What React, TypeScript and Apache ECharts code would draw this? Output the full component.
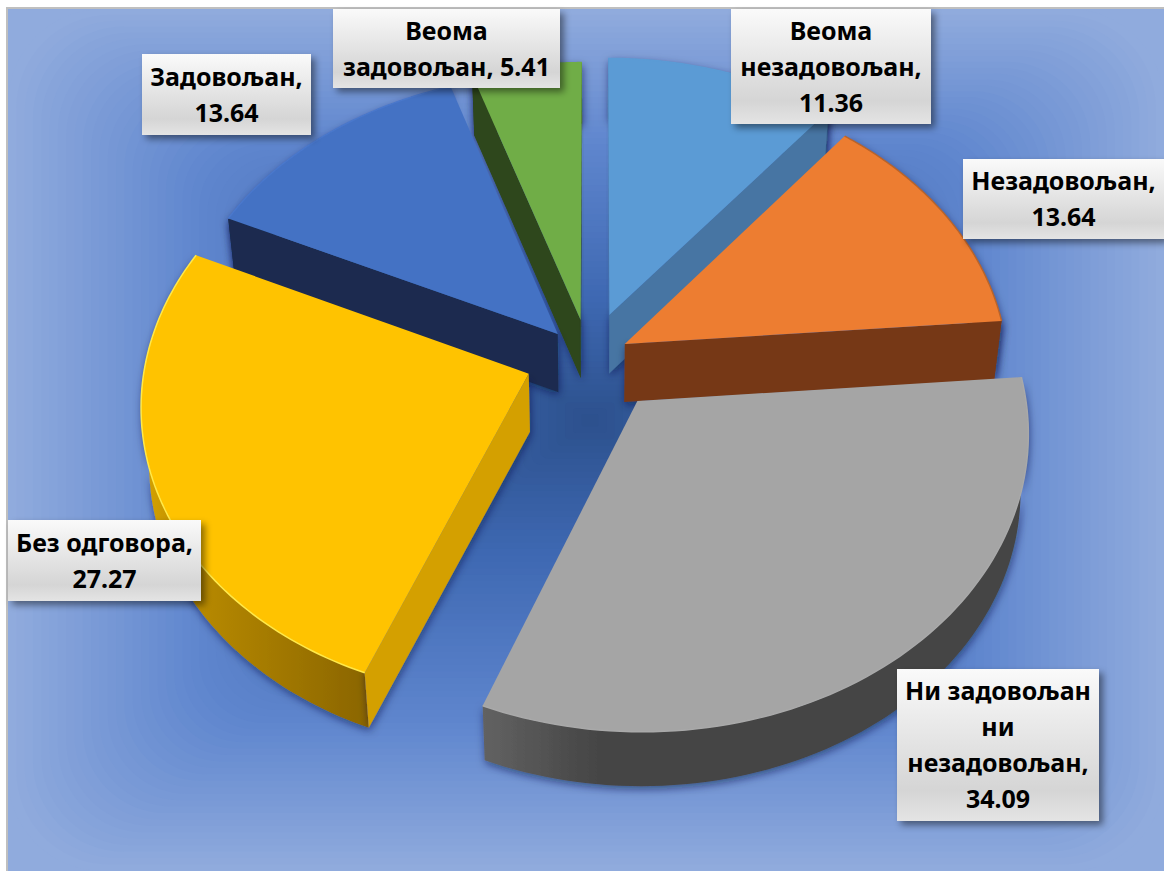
import React, { useEffect, useRef } from "react";
import * as echarts from "echarts";

// ---- data (clockwise from 12 o'clock)
const NAMES = ["Веома\nнезадовољан", "Незадовољан", "Ни задовољан\nни\nнезадовољан", "Без одговора", "Задовољан", "Веома\nзадовољан"];
const VALUES = [11.36, 13.64, 34.09, 27.27, 13.64, 5.41];
const VALUE_BREAK = ["\n", "\n", "\n", "\n", "\n", " "];

// ---- styling
const TOP_COLORS = ["#5B9BD5", "#ED7D31", "#A5A5A5", "#FFC300", "#4472C4", "#70AD47"];
const CUT_COLORS = ["#4674A3", "#763918", "#444444", "#D4A000", "#1A2C50", "#2D461C"];
const RIM_COLORS = ["#5B9BD5", "#B8642C", "#A9A9A9", "#FFE94A", "#4A78CC", "#70AD47"];
const ARC_STOPS = [
  ["#44739F", "#44739F", "#44739F"],
  ["#763918", "#763918", "#763918"],
  ["#626262", "#444444", "#444444"],
  ["#D8A400", "#B98B00", "#8A6500"],
  ["#1A2C50", "#1A2C50", "#1A2C50"],
  ["#2D461C", "#2D461C", "#2D461C"],
];
const DRAW_ORDER = [0, 5, 4, 1, 3, 2];
// explosion of each slice, as a fraction of the pie radius (x to the right, y to the back)
const EXPLODE_X = [0.038, 0.078, 0.109, -0.172, -0.098, -0.038];
const EXPLODE_Y = [0.175, 0.073, -0.122, -0.03, 0.108, 0.157];
// label boxes: left, top, right, bottom
const BOXES = [
  [731, 9, 931, 124],
  [963, 159, 1164, 239],
  [897, 669, 1099, 821],
  [8, 520, 201, 601],
  [142, 54, 311, 135],
  [333, 9, 560, 88],
];

const W = 1164, H = 871;
const CX = 595, CY = 365, RX = 384, RY = 291, PERSP = 0.098;
const DEPTH = 58, DEPTH_SX = 0.982, DEPTH_SY = 0.99;
const BG = { x0: 8, y0: 9, x1: 1164, y1: 871, cx: 590, cy: 420 };
const BG_RAMP: [number, number[]][] = [
  [0, [0x2c, 0x50, 0x8c]],
  [0.3, [0x3e, 0x68, 0xb2]],
  [0.68, [0x5f, 0x86, 0xce]],
  [1, [0x90, 0xab, 0xdd]],
];
const BG_LAYERS = 70;

const TOTAL = VALUES.reduce((a, b) => a + b, 0);
const START: number[] = [];
VALUES.reduce((acc, v, i) => { START[i] = (acc / TOTAL) * Math.PI * 2; return acc + v; }, 0);
const projTop = (X: number, Y: number): [number, number] => {
  const w = 1 + PERSP * Y;
  return [CX + (RX * X) / w, CY - (RY * Y) / w];
};
const down = (p: number[]): [number, number] => [CX + (p[0] - CX) * DEPTH_SX, CY + (p[1] - CY) * DEPTH_SY + DEPTH];
const SHADOW = { shadowBlur: 8, shadowOffsetX: 1, shadowOffsetY: 3, shadowColor: "rgba(0,20,60,0.55)" };

function renderSlice(_p: any, api: any) {
  const i = api.value(0);
  const a0 = START[i];
  const a1 = a0 + (VALUES[i] / TOTAL) * Math.PI * 2;
  const ex = EXPLODE_X[i], ey = EXPLODE_Y[i];
  const apex = projTop(ex, ey);
  const arc: [number, number][] = [];
  const n = 80;
  for (let k = 0; k <= n; k++) {
    const a = a0 + ((a1 - a0) * k) / n;
    arc.push(projTop(ex + Math.sin(a), ey + Math.cos(a)));
  }
  const arcDown = arc.map(down);
  const apexDown = down(apex);
  const arcSide = arc.concat(arcDown.slice().reverse());
  const mid = arc[n >> 1];
  const poly = (pts: number[][], fill: any, extra: any = {}) => ({
    type: "polygon",
    shape: { points: pts },
    style: { fill, ...extra },
  });
  // a cut face shows only when the slice lies above its edge on screen
  const cuts = [arc[0], arc[n]]
    .filter((e) => {
      const ux = e[0] - apex[0], uy = e[1] - apex[1];
      const inside = ux * (mid[1] - apex[1]) - uy * (mid[0] - apex[0]);
      return inside * ux < 0;
    })
    .map((e) => poly([apex, e, down(e), apexDown], CUT_COLORS[i], SHADOW));
  const s = ARC_STOPS[i];
  return {
    type: "group",
    children: [
      poly(arcSide, new echarts.graphic.LinearGradient(0, 0, 1, 0, [
        { offset: 0, color: s[0] },
        { offset: 0.22, color: s[1] },
        { offset: 1, color: s[2] },
      ]), SHADOW),
      ...cuts,
      poly([apex, ...arc], TOP_COLORS[i]),
      {
        type: "polyline",
        shape: { points: arc },
        style: { fill: "none", stroke: RIM_COLORS[i], lineWidth: 1.5 },
      },
    ],
  };
}

function renderLabel(_p: any, api: any) {
  const i = api.value(0);
  const [l, t, r, b] = BOXES[i];
  return {
    type: "group",
    children: [
      {
        type: "rect",
        shape: { x: l, y: t, width: r - l, height: b - t },
        style: {
          fill: new echarts.graphic.LinearGradient(0, 0, 0, 1, [
            { offset: 0, color: "#FAFAFA" },
            { offset: 0.8, color: "#D5D5D5" },
            { offset: 1, color: "#E4E4E4" },
          ]),
          shadowBlur: 7,
          shadowOffsetX: 4,
          shadowOffsetY: 4,
          shadowColor: "rgba(0,0,0,0.45)",
        },
      },
      {
        type: "text",
        style: {
          x: (l + r) / 2,
          y: (t + b) / 2 - 1,
          text: `${NAMES[i]},${VALUE_BREAK[i]}${VALUES[i].toFixed(2)}`,
          align: "center",
          verticalAlign: "middle",
          fill: "#000000",
          font: 'bold 25px "Noto Sans"',
          lineHeight: 36,
        },
      },
    ],
  };
}

function rampColor(t: number) {
  let k = 0;
  while (k < BG_RAMP.length - 2 && t > BG_RAMP[k + 1][0]) k++;
  const [t0, c0] = BG_RAMP[k];
  const [t1, c1] = BG_RAMP[k + 1];
  const f = Math.min(1, Math.max(0, (t - t0) / (t1 - t0)));
  return `rgb(${c0.map((c, j) => Math.round(c + (c1[j] - c) * f)).join(",")})`;
}

function backgroundLayers() {
  const { x0, y0, x1, y1, cx, cy } = BG;
  const out: any[] = [
    { type: "rect", shape: { x: x0 - 2, y: y0 - 2, width: x1 - x0 + 4, height: y1 - y0 + 4 }, style: { fill: "#BFBFBF" }, silent: true, z: -3 },
    { type: "rect", shape: { x: x0, y: y0, width: x1 - x0, height: y1 - y0 }, style: { fill: rampColor(1) }, silent: true, z: -2 },
  ];
  for (let k = BG_LAYERS; k >= 1; k--) {
    const t = k / BG_LAYERS;
    const left = cx - (cx - x0) * t, right = cx + (x1 - cx) * t;
    const top = cy - (cy - y0) * t, bottom = cy + (y1 - cy) * t;
    out.push({
      type: "rect",
      shape: { x: left, y: top, width: right - left, height: bottom - top, r: 0.22 * (bottom - top) * 0.5 },
      style: { fill: rampColor(t) },
      silent: true,
      z: -1,
      z2: BG_LAYERS - k,
    });
  }
  return out;
}

export default function App() {
  const ref = useRef<HTMLDivElement>(null);
  useEffect(() => {
    const chart = echarts.init(ref.current!, undefined, { renderer: "svg" });
    chart.setOption({
      animation: false,
      backgroundColor: "#FFFFFF",
      graphic: backgroundLayers(),
      series: [
        {
          type: "custom",
          coordinateSystem: "none",
          renderItem: renderSlice,
          data: DRAW_ORDER.map((i) => [i, VALUES[i]]),
          silent: true,
          z: 2,
        },
        {
          type: "custom",
          coordinateSystem: "none",
          renderItem: renderLabel,
          data: VALUES.map((v, i) => [i, v]),
          silent: true,
          z: 3,
        },
      ],
    });
    return () => chart.dispose();
  }, []);
  return <div ref={ref} style={{ position: "absolute", left: 0, top: 0, width: W, height: H }} />;
}
